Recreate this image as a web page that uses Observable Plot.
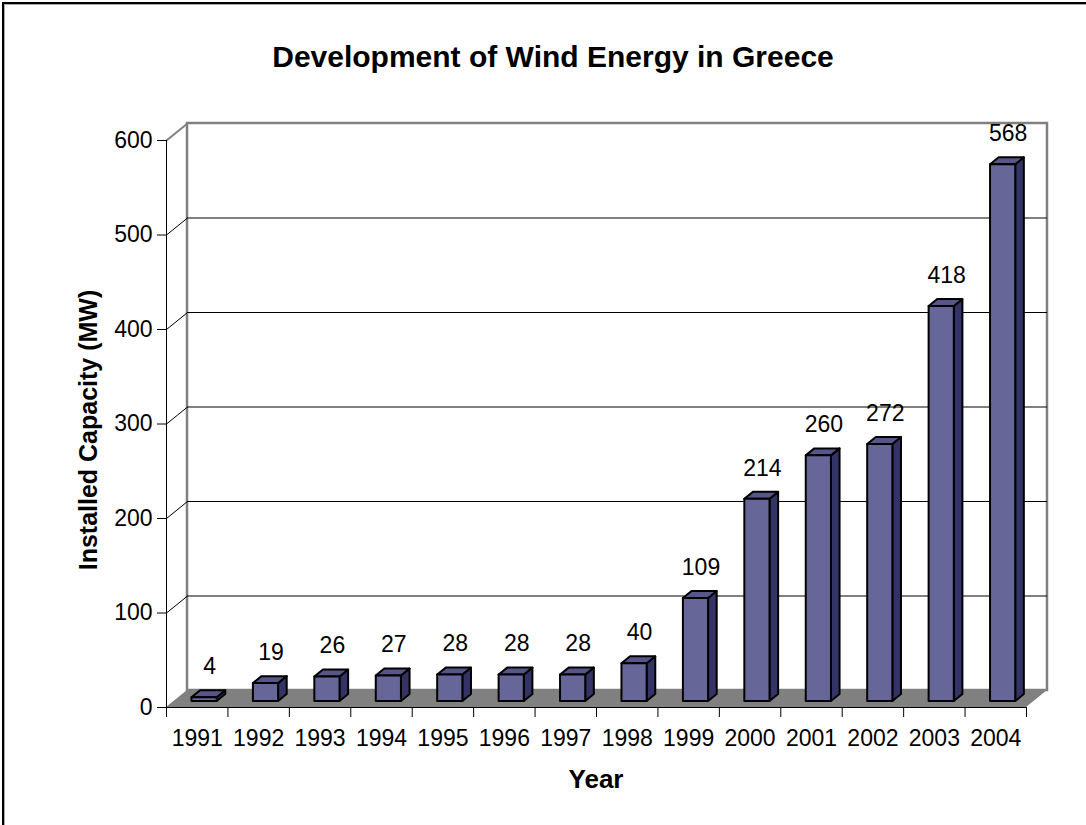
<!DOCTYPE html>
<html>
<head>
<meta charset="utf-8">
<title>Development of Wind Energy in Greece</title>
<script src="https://cdn.jsdelivr.net/npm/d3@7"></script>
<script src="https://cdn.jsdelivr.net/npm/@observablehq/plot@0.6"></script>
<style>
  body { margin: 0; background: #fff; font-family: "Liberation Sans", Arial, sans-serif; }
  #chart { position: relative; width: 1086px; height: 825px; overflow: hidden; background: #fff; }
  #plot { position: absolute; left: 0; top: 0; }
  #frame { position: absolute; left: 2px; top: 2px; width: 1300px; height: 1100px;
           border-left: 2px solid #000; border-top: 2px solid #000;
           box-shadow: inset 1px 1px 0 #aaa; pointer-events: none; }
  .t { position: absolute; font-weight: bold; color: #000; white-space: nowrap; line-height: 1; }
  #title  { left: 553px; top: 57px;  transform: translate(-50%, -50%); font-size: 30px; }
  #ytitle { left: 88px;  top: 430px; transform: translate(-50%, -50%) rotate(-90deg); font-size: 25px; }
  #xtitle { left: 596px; top: 779px; transform: translate(-50%, -50%); font-size: 26px; }
</style>
</head>
<body>
<div id="chart">
  <div id="plot"></div>
  <div id="frame"></div>
  <div class="t" id="title"></div>
  <div class="t" id="ytitle"></div>
  <div class="t" id="xtitle"></div>
</div>
<script>
// Installed wind capacity in Greece, MW per year
const years = ["1991", "1992", "1993", "1994", "1995", "1996", "1997",
               "1998", "1999", "2000", "2001", "2002", "2003", "2004"];
const capacity = [4, 19, 26, 27, 28, 28, 28, 40, 109, 214, 260, 272, 418, 568];
const yTicks = [0, 100, 200, 300, 400, 500, 600];

const titleText = "Development of Wind Energy in Greece";
const yTitleText = "Installed Capacity (MW)";
const xTitleText = "Year";

document.getElementById("title").textContent = titleText;
document.getElementById("ytitle").textContent = yTitleText;
document.getElementById("xtitle").textContent = xTitleText;

// Frame geometry
const W = 1086, H = 825;
const mL = 166, mR = 60, mT = 140, mB = 118;
const n = years.length;
const yMax = yTicks[yTicks.length - 1];

// pixels per data unit on each scale
const pxX = (W - mL - mR) / n;
const pxY = (H - mT - mB) / yMax;

// Oblique depth of the floor (pixels right, pixels up) for the pseudo-3D look
const depthPx = [21, 17];
const dX = z => z * depthPx[0] / pxX;   // depth fraction -> x offset in data units
const dY = z => z * depthPx[1] / pxY;   // depth fraction -> y offset in data units

// Bars occupy part of the floor's depth and part of each category's width
const zF = 0.35, zB = 0.76;
const half = 0.205;
const labelShift = 5 / pxX;
const numSize = 23;

const rows = years.map((year, i) => ({ i, year, value: capacity[i] }));

// Bar faces
const fronts = rows.map(d => ({
  x1: d.i + 0.5 - half + dX(zF), x2: d.i + 0.5 + half + dX(zF),
  y1: dY(zF), y2: d.value + dY(zF)
}));
const sides = rows.flatMap(d => [
  { id: d.year, x: d.i + 0.5 + half + dX(zF), y1: dY(zF), y2: d.value + dY(zF) },
  { id: d.year, x: d.i + 0.5 + half + dX(zB), y1: dY(zB), y2: d.value + dY(zB) }
]);
const tops = rows.flatMap(d => [
  { id: d.year, y: d.value + dY(zF), x1: d.i + 0.5 - half + dX(zF), x2: d.i + 0.5 + half + dX(zF) },
  { id: d.year, y: d.value + dY(zB), x1: d.i + 0.5 - half + dX(zB), x2: d.i + 0.5 + half + dX(zB) }
]);

// Floor and back wall
const floor = [
  { y: 0, x1: 0, x2: n },
  { y: dY(1), x1: dX(1), x2: n + dX(1) }
];
const innerTicks = yTicks.filter(t => t > 0 && t < yMax);

const barFill = "#666699", sideFill = "#333366", topFill = "#56568a";
const wallGray = "#808080";

const chart = Plot.plot({
  width: W,
  height: H,
  marginLeft: mL, marginRight: mR, marginTop: mT, marginBottom: mB,
  x: { type: "linear", domain: [0, n] },
  y: { type: "linear", domain: [0, yMax] },
  style: { fontFamily: "'Liberation Sans', Arial, sans-serif", fontSize: numSize + "px",
           background: "transparent", overflow: "visible", color: "#000" },
  marks: [
    // back wall
    Plot.rect([0], { x1: dX(1), x2: n + dX(1), y1: dY(1), y2: yMax + dY(1),
                     fill: "white", stroke: wallGray, strokeWidth: 2.5 }),
    // gridlines on the back wall
    Plot.ruleY(innerTicks, { y: t => t + dY(1), x1: dX(1), x2: n + dX(1),
                             stroke: "#000", strokeWidth: 1 }),
    // depth lines joining the value axis to the wall
    Plot.link(innerTicks, { x1: 0, y1: t => t, x2: dX(1), y2: t => t + dY(1),
                            stroke: "#000", strokeWidth: 1 }),
    Plot.link([yMax], { x1: 0, y1: t => t, x2: dX(1), y2: t => t + dY(1),
                        stroke: wallGray, strokeWidth: 2 }),
    // floor
    Plot.areaX(floor, { y: "y", x1: "x1", x2: "x2", fill: wallGray }),
    // bars: side, top, front
    Plot.areaY(sides, { x: "x", y1: "y1", y2: "y2", z: "id", fill: sideFill,
                        stroke: "#000", strokeWidth: 2, strokeLinejoin: "round" }),
    Plot.areaX(tops, { y: "y", x1: "x1", x2: "x2", z: "id", fill: topFill,
                       stroke: "#000", strokeWidth: 2, strokeLinejoin: "round" }),
    Plot.rect(fronts, { x1: "x1", x2: "x2", y1: "y1", y2: "y2", fill: barFill,
                        stroke: "#000", strokeWidth: 2, strokeLinejoin: "round" }),
    // value labels
    Plot.text(rows, { x: d => d.i + 0.5 + dX(zF) + labelShift, y: d => d.value + dY(zF),
                      text: d => String(d.value), dy: -31, fontSize: numSize, fill: "#000" }),
    // axes
    Plot.ruleX([0], { y1: 0, y2: yMax, stroke: "#000", strokeWidth: 1 }),
    Plot.ruleY([0], { x1: 0, x2: n, stroke: "#000", strokeWidth: 1 }),
    Plot.axisY({ ticks: yTicks, tickSize: 9, tickPadding: 5, tickFormat: d => String(d),
                 fontSize: numSize, label: null, stroke: "#000" }),
    Plot.axisX({ ticks: d3.range(n + 1), tickSize: 10, tickFormat: () => "",
                 label: null, stroke: "#000" }),
    Plot.axisX({ ticks: d3.range(n).map(i => i + 0.5), tickSize: 0, tickPadding: 22,
                 tickFormat: d => years[Math.round(d - 0.5)], fontSize: numSize, label: null })
  ]
});

document.getElementById("plot").appendChild(chart);
</script>
</body>
</html>
